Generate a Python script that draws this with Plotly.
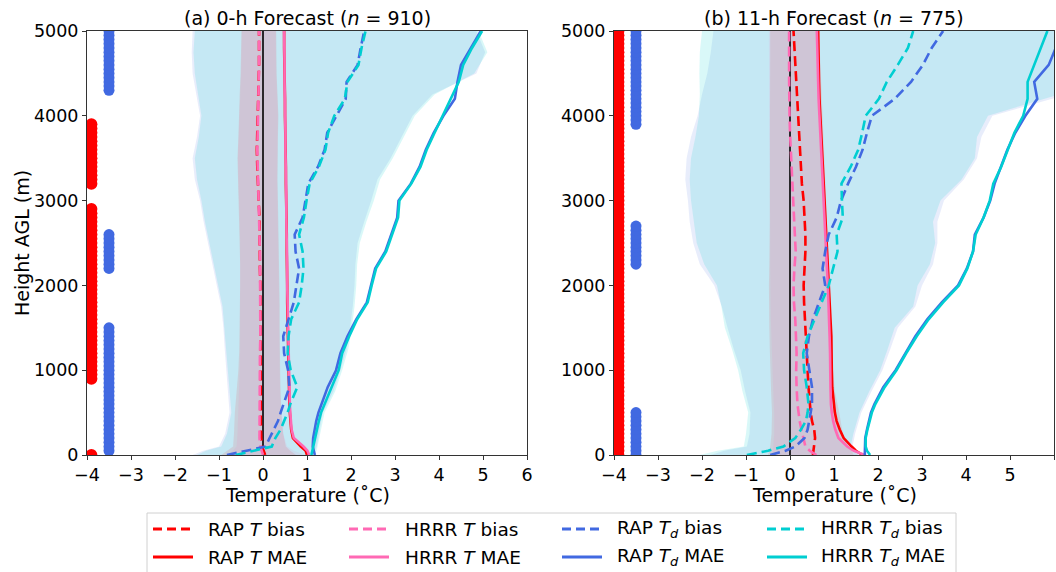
import plotly.graph_objects as go

# ---------------- data ----------------
H = [0, 50, 100, 200, 300, 400, 500, 600, 800, 1000, 1200, 1400, 1600, 1800, 2000,
     2200, 2400, 2600, 2800, 3000, 3200, 3400, 3600, 3800, 4000, 4200, 4400, 4600, 4800, 5000]
HB = [0, 50, 100, 250, 500, 750, 1000, 1250, 1500, 1750, 2000, 2250, 2500, 2750, 3000,
      3250, 3500, 3750, 4000, 4250, 4500, 4750, 5000]
x_ticks = [-4, -3, -2, -1, 0, 1, 2, 3, 4, 5, 6]
y_ticks = [0, 1000, 2000, 3000, 4000, 5000]

# (a) 0-h forecast
a_rap_t_bias = [0.05, 0.02, -0.02, -0.04, -0.05, -0.05, -0.05, -0.05, -0.05, -0.05, -0.05, -0.05, -0.05, -0.05, -0.06,
                -0.07, -0.07, -0.07, -0.08, -0.10, -0.12, -0.13, -0.14, -0.13, -0.12, -0.10, -0.09, -0.09, -0.09, -0.09]
a_hrrr_t_bias = [0.00, -0.03, -0.06, -0.08, -0.08, -0.08, -0.08, -0.08, -0.08, -0.07, -0.07, -0.06, -0.06, -0.06, -0.06,
                 -0.07, -0.07, -0.08, -0.09, -0.11, -0.12, -0.13, -0.13, -0.12, -0.11, -0.10, -0.10, -0.09, -0.09, -0.09]
a_rap_t_mae = [1.00, 0.97, 0.86, 0.68, 0.64, 0.62, 0.61, 0.60, 0.59, 0.58, 0.57, 0.57, 0.56, 0.55, 0.55,
               0.54, 0.54, 0.54, 0.53, 0.53, 0.52, 0.52, 0.51, 0.51, 0.50, 0.50, 0.49, 0.49, 0.48, 0.48]
a_hrrr_t_mae = [1.05, 1.01, 0.92, 0.70, 0.65, 0.63, 0.62, 0.61, 0.60, 0.59, 0.58, 0.57, 0.56, 0.56, 0.55,
                0.55, 0.54, 0.54, 0.53, 0.53, 0.52, 0.52, 0.51, 0.51, 0.50, 0.50, 0.49, 0.49, 0.48, 0.48]
a_rap_td_bias = [-0.82, -0.37, 0.06, 0.15, 0.25, 0.34, 0.40, 0.47, 0.60, 0.57, 0.48, 0.46, 0.58, 0.70, 0.76,
                 0.82, 0.74, 0.72, 0.90, 0.97, 1.03, 1.25, 1.40, 1.46, 1.67, 1.88, 1.90, 2.15, 2.22, 2.30]
a_hrrr_td_bias = [-0.62, -0.20, 0.20, 0.28, 0.40, 0.48, 0.56, 0.62, 0.78, 0.63, 0.56, 0.58, 0.64, 0.82, 0.88,
                  0.92, 0.90, 0.82, 0.93, 0.99, 1.06, 1.27, 1.42, 1.48, 1.62, 1.86, 1.92, 2.17, 2.24, 2.33]
a_rap_td_mae = [1.18, 1.15, 1.13, 1.14, 1.17, 1.21, 1.26, 1.33, 1.47, 1.66, 1.76, 1.92, 2.12, 2.36, 2.45,
                2.55, 2.78, 2.92, 3.05, 3.08, 3.36, 3.56, 3.70, 3.88, 4.10, 4.36, 4.42, 4.50, 4.72, 4.95]
a_hrrr_td_mae = [1.10, 1.12, 1.14, 1.18, 1.22, 1.27, 1.32, 1.40, 1.57, 1.72, 1.80, 1.96, 2.14, 2.38, 2.47,
                 2.57, 2.80, 2.94, 3.07, 3.10, 3.37, 3.58, 3.72, 3.90, 4.08, 4.27, 4.45, 4.55, 4.75, 4.98]
# spread bands (a)
a_rap_td_lo = [-1.60, -1.36, -1.00, -0.86, -0.76, -0.80, -0.84, -0.87, -0.90, -0.95, -1.05, -1.15, -1.25, -1.35, -1.43,
               -1.55, -1.60, -1.50, -1.43, -1.52, -1.60, -1.62, -1.60]
a_rap_td_hi = [1.10, 1.18, 1.22, 1.27, 1.36, 1.60, 1.76, 1.90, 1.98, 2.04, 2.08, 2.10, 2.15, 2.30, 2.46,
               2.60, 2.90, 3.15, 3.40, 3.85, 4.85, 5.05, 4.85]
a_hrrr_td_lo = [-1.50, -1.30, -0.95, -0.82, -0.72, -0.76, -0.80, -0.84, -0.87, -0.92, -1.02, -1.12, -1.22, -1.32, -1.40,
                -1.50, -1.55, -1.46, -1.40, -1.48, -1.55, -1.58, -1.55]
a_hrrr_td_hi = [1.15, 1.22, 1.25, 1.30, 1.40, 1.64, 1.80, 1.94, 2.02, 2.08, 2.12, 2.14, 2.20, 2.35, 2.52,
                2.66, 2.95, 3.20, 3.45, 3.90, 4.80, 5.10, 4.90]
a_rap_t_lo = [-0.95, -0.80, -0.68, -0.66, -0.64, -0.60, -0.56, -0.54, -0.53, -0.52, -0.52, -0.52, -0.53, -0.54, -0.56,
              -0.57, -0.58, -0.56, -0.55, -0.53, -0.51, -0.50, -0.49]
a_rap_t_hi = [0.75, 0.62, 0.52, 0.46, 0.42, 0.40, 0.39, 0.38, 0.38, 0.38, 0.38, 0.37, 0.36, 0.35, 0.34,
              0.33, 0.33, 0.34, 0.35, 0.33, 0.31, 0.30, 0.30]
a_hrrr_t_lo = [-0.78, -0.68, -0.60, -0.58, -0.56, -0.54, -0.53, -0.52, -0.52, -0.51, -0.51, -0.51, -0.52, -0.53, -0.55,
               -0.56, -0.57, -0.55, -0.54, -0.52, -0.50, -0.49, -0.48]
a_hrrr_t_hi = [0.95, 0.70, 0.55, 0.46, 0.41, 0.39, 0.38, 0.37, 0.37, 0.37, 0.37, 0.36, 0.35, 0.34, 0.33,
               0.32, 0.32, 0.33, 0.34, 0.32, 0.30, 0.29, 0.29]
# significance levels (a)
a_sig_t_levels = [(0, 0), (900, 2900), (3200, 3900)]
a_sig_td_levels = [(50, 1500), (2200, 2600), (4300, 5000)]

# (b) 11-h forecast
b_rap_t_bias = [0.52, 0.53, 0.55, 0.57, 0.55, 0.50, 0.47, 0.45, 0.42, 0.40, 0.38, 0.35, 0.33, 0.32, 0.31,
                0.33, 0.35, 0.35, 0.33, 0.31, 0.27, 0.25, 0.23, 0.21, 0.19, 0.17, 0.14, 0.12, 0.10, 0.08]
b_hrrr_t_bias = [0.60, 0.45, 0.35, 0.30, 0.26, 0.22, 0.19, 0.17, 0.15, 0.14, 0.15, 0.14, 0.12, 0.09, 0.08,
                 0.10, 0.13, 0.11, 0.09, 0.07, 0.05, 0.03, 0.01, 0.00, -0.01, -0.02, -0.02, -0.02, -0.02, -0.02]
b_rap_t_mae = [1.65, 1.50, 1.40, 1.22, 1.13, 1.06, 1.02, 1.00, 0.96, 0.95, 0.95, 0.94, 0.92, 0.90, 0.89,
               0.87, 0.84, 0.82, 0.81, 0.79, 0.76, 0.74, 0.72, 0.70, 0.68, 0.67, 0.66, 0.65, 0.64, 0.64]
b_hrrr_t_mae = [1.70, 1.45, 1.30, 1.10, 1.03, 0.98, 0.95, 0.93, 0.92, 0.92, 0.91, 0.90, 0.89, 0.87, 0.86,
                0.84, 0.82, 0.80, 0.79, 0.77, 0.74, 0.72, 0.70, 0.68, 0.66, 0.65, 0.64, 0.63, 0.62, 0.61]
b_rap_td_bias = [-0.45, -0.10, 0.12, 0.33, 0.40, 0.44, 0.47, 0.50, 0.50, 0.44, 0.38, 0.43, 0.52, 0.66, 0.80,
                 0.74, 0.80, 0.88, 1.06, 1.16, 1.32, 1.50, 1.65, 1.75, 1.86, 2.38, 2.75, 3.02, 3.22, 3.48]
b_hrrr_td_bias = [-0.98, -0.50, -0.15, 0.12, 0.25, 0.36, 0.40, 0.42, 0.38, 0.32, 0.30, 0.40, 0.56, 0.72, 0.88,
                  0.98, 1.08, 1.06, 1.20, 1.18, 1.17, 1.38, 1.55, 1.64, 1.72, 2.02, 2.20, 2.45, 2.68, 2.80]
b_rap_td_mae = [1.70, 1.70, 1.70, 1.71, 1.75, 1.80, 1.84, 1.92, 2.12, 2.40, 2.62, 2.85, 3.12, 3.45, 3.82,
                4.02, 4.16, 4.20, 4.40, 4.55, 4.65, 4.80, 4.94, 5.12, 5.35, 5.62, 5.55, 5.88, 6.05, 6.20]
b_hrrr_td_mae = [1.82, 1.75, 1.72, 1.72, 1.76, 1.81, 1.86, 1.94, 2.15, 2.42, 2.64, 2.88, 3.15, 3.48, 3.84,
                 4.03, 4.16, 4.22, 4.40, 4.54, 4.62, 4.80, 4.95, 5.10, 5.30, 5.40, 5.40, 5.55, 5.70, 5.85]
# spread bands (b)
b_rap_td_lo = [-1.80, -1.50, -0.98, -0.92, -0.90, -1.02, -1.12, -1.28, -1.42, -1.55, -1.72, -2.05, -2.20, -2.28, -2.32,
               -2.38, -2.35, -2.25, -2.10, -2.00, -1.88, -1.80, -1.74]
b_rap_td_hi = [1.60, 1.50, 1.42, 1.48, 1.62, 1.85, 2.10, 2.28, 2.45, 2.85, 3.00, 3.25, 3.35, 3.35, 3.50,
               3.95, 4.25, 4.35, 4.60, 6.30, 6.50, 6.50, 6.50]
b_hrrr_td_lo = [-2.05, -1.65, -1.05, -1.00, -0.95, -1.08, -1.18, -1.32, -1.48, -1.56, -1.66, -1.95, -2.12, -2.18, -2.25,
                -2.28, -2.25, -2.15, -2.07, -2.05, -2.06, -2.05, -2.00]
b_hrrr_td_hi = [1.55, 1.45, 1.38, 1.44, 1.58, 1.80, 2.05, 2.22, 2.38, 2.80, 2.90, 3.18, 3.30, 3.25, 3.42,
                3.90, 4.20, 4.25, 4.50, 6.10, 6.50, 6.50, 6.50]
b_rap_t_lo = [-0.50, -0.48, -0.45, -0.42, -0.41, -0.43, -0.45, -0.46, -0.47, -0.48, -0.48, -0.47, -0.46, -0.46, -0.46,
              -0.46, -0.45, -0.45, -0.45, -0.45, -0.45, -0.45, -0.45]
b_rap_t_hi = [1.45, 1.40, 1.32, 1.20, 1.12, 1.02, 0.98, 0.96, 0.94, 0.92, 0.90, 0.88, 0.86, 0.84, 0.82,
              0.80, 0.78, 0.76, 0.74, 0.72, 0.70, 0.68, 0.68]
b_hrrr_t_lo = [-0.42, -0.40, -0.38, -0.36, -0.36, -0.38, -0.40, -0.42, -0.43, -0.44, -0.45, -0.45, -0.45, -0.45, -0.46,
               -0.46, -0.46, -0.47, -0.47, -0.48, -0.48, -0.48, -0.48]
b_hrrr_t_hi = [1.55, 1.40, 1.28, 1.12, 1.02, 0.95, 0.92, 0.90, 0.88, 0.86, 0.84, 0.82, 0.80, 0.78, 0.76,
               0.74, 0.72, 0.70, 0.68, 0.66, 0.64, 0.62, 0.62]
b_sig_t_levels = [(0, 5000)]
b_sig_td_levels = [(0, 500), (2250, 2700), (3900, 5000)]

sig_step = 50
sig_t_x = -3.9
sig_td_x = -3.5

titles = ["(a) 0-h Forecast (<i>n</i> = 910)", "(b) 11-h Forecast (<i>n</i> = 775)"]
x_title = "Temperature (˚C)"
y_title = "Height AGL (m)"

# ---------------- styling ----------------
C_RAP_T = "rgb(255,0,0)"
C_HRRR_T = "rgb(255,105,180)"
C_RAP_TD = "rgb(65,105,225)"
C_HRRR_TD = "rgb(0,206,209)"
F_RAP_TD = "rgba(65,105,225,0.12)"
F_HRRR_TD = "rgba(0,206,209,0.15)"
F_RAP_T = "rgba(255,0,0,0.10)"
F_HRRR_T = "rgba(255,105,180,0.10)"
FONT = "DejaVu Sans"
DASH = "10px,5px"
LW = 2.6

W, HGT = 1056, 572
x_dom = [[87 / W, 527 / W], [614 / W, 1054 / W]]
y_dom = [1 - 455 / HGT, 1 - 31 / HGT]

fig = go.Figure()


def expand(levels):
    out = []
    for lo, hi in levels:
        h = lo
        while h <= hi:
            out.append(h)
            h += sig_step
    return out


def band(xa, ya, lo, hi, color):
    fig.add_trace(go.Scatter(x=list(lo) + list(hi)[::-1], y=list(HB) + list(HB)[::-1],
                             fill="toself", fillcolor=color, line=dict(width=0),
                             mode="lines", hoverinfo="skip", showlegend=False,
                             xaxis=xa, yaxis=ya))


panels = [
    dict(xa="x", ya="y",
         bands=[(a_rap_td_lo, a_rap_td_hi, F_RAP_TD), (a_hrrr_td_lo, a_hrrr_td_hi, F_HRRR_TD),
                (a_rap_t_lo, a_rap_t_hi, F_RAP_T), (a_hrrr_t_lo, a_hrrr_t_hi, F_HRRR_T)],
         lines=[a_rap_t_bias, a_rap_t_mae, a_hrrr_t_bias, a_hrrr_t_mae,
                a_rap_td_bias, a_rap_td_mae, a_hrrr_td_bias, a_hrrr_td_mae],
         sig_t=a_sig_t_levels, sig_td=a_sig_td_levels),
    dict(xa="x2", ya="y2",
         bands=[(b_rap_td_lo, b_rap_td_hi, F_RAP_TD), (b_hrrr_td_lo, b_hrrr_td_hi, F_HRRR_TD),
                (b_rap_t_lo, b_rap_t_hi, F_RAP_T), (b_hrrr_t_lo, b_hrrr_t_hi, F_HRRR_T)],
         lines=[b_rap_t_bias, b_rap_t_mae, b_hrrr_t_bias, b_hrrr_t_mae,
                b_rap_td_bias, b_rap_td_mae, b_hrrr_td_bias, b_hrrr_td_mae],
         sig_t=b_sig_t_levels, sig_td=b_sig_td_levels),
]

# name, colour, dash, legend row, legend column
line_specs = [
    ("RAP <i>T</i> bias", C_RAP_T, DASH, 0, 0),
    ("RAP <i>T</i> MAE", C_RAP_T, "solid", 1, 0),
    ("HRRR <i>T</i> bias", C_HRRR_T, DASH, 0, 1),
    ("HRRR <i>T</i> MAE", C_HRRR_T, "solid", 1, 1),
    ("RAP <i>T<sub>d</sub></i> bias", C_RAP_TD, DASH, 0, 2),
    ("RAP <i>T<sub>d</sub></i> MAE", C_RAP_TD, "solid", 1, 2),
    ("HRRR <i>T<sub>d</sub></i> bias", C_HRRR_TD, DASH, 0, 3),
    ("HRRR <i>T<sub>d</sub></i> MAE", C_HRRR_TD, "solid", 1, 3),
]

for pi, p in enumerate(panels):
    for lo, hi, col in p["bands"]:
        band(p["xa"], p["ya"], lo, hi, col)
    # zero line
    fig.add_trace(go.Scatter(x=[0, 0], y=[y_ticks[0], y_ticks[-1]], mode="lines",
                             line=dict(color="black", width=1.6), showlegend=False,
                             hoverinfo="skip", xaxis=p["xa"], yaxis=p["ya"]))
    for (name, col, dash, _r, _c), vals in zip(line_specs, p["lines"]):
        fig.add_trace(go.Scatter(x=vals, y=H, mode="lines", name=name,
                                 line=dict(color=col, width=LW, dash=dash),
                                 showlegend=False, xaxis=p["xa"], yaxis=p["ya"]))
    st = expand(p["sig_t"])
    fig.add_trace(go.Scatter(x=[sig_t_x] * len(st), y=st, mode="markers",
                             marker=dict(color=C_RAP_T, size=12, line=dict(width=0)),
                             showlegend=False, xaxis=p["xa"], yaxis=p["ya"]))
    sd = expand(p["sig_td"])
    fig.add_trace(go.Scatter(x=[sig_td_x] * len(sd), y=sd, mode="markers",
                             marker=dict(color=C_RAP_TD, size=11, line=dict(width=0)),
                             showlegend=False, xaxis=p["xa"], yaxis=p["ya"]))

axis_common = dict(showgrid=False, zeroline=False, showline=True, mirror=True,
                   linecolor="#333333", linewidth=1, ticks="outside", ticklen=4,
                   tickcolor="#333333", automargin=False,
                   tickfont=dict(family=FONT, size=17.5, color="black"))

for i in range(2):
    sfx = "" if i == 0 else "2"
    fig.update_layout(**{
        "xaxis" + sfx: dict(axis_common, domain=x_dom[i], range=[x_ticks[0], x_ticks[-1]],
                            tickvals=x_ticks, anchor="y" + sfx),
        "yaxis" + sfx: dict(axis_common, domain=y_dom, range=[y_ticks[0], y_ticks[-1]],
                            tickvals=y_ticks, anchor="x" + sfx),
    })

ann = []
for i in range(2):
    cx = (x_dom[i][0] + x_dom[i][1]) / 2
    ann.append(dict(text=titles[i], x=cx, y=1 - 18 / HGT, xref="paper", yref="paper",
                    showarrow=False, xanchor="center", yanchor="middle",
                    font=dict(family=FONT, size=19, color="black")))
    ann.append(dict(text=x_title, x=cx, y=1 - 495 / HGT, xref="paper", yref="paper",
                    showarrow=False, xanchor="center", yanchor="middle",
                    font=dict(family=FONT, size=19, color="black")))
ann.append(dict(text=y_title, x=22 / W, y=1 - 243 / HGT, xref="paper", yref="paper",
                showarrow=False, xanchor="center", yanchor="middle", textangle=-90,
                font=dict(family=FONT, size=19, color="black")))

# ---- legend (drawn as shapes + text) ----
shapes = [dict(type="rect", xref="paper", yref="paper",
               x0=147 / W, x1=956 / W, y0=1 - 580 / HGT, y1=1 - 513 / HGT,
               line=dict(color="#d0d0d0", width=1), fillcolor="white", layer="above")]
leg_line_x = [153, 349, 562, 767]
leg_text_x = [207, 404, 616, 820]
leg_row_y = [529, 557]
for name, col, dash, r, c in line_specs:
    yy = 1 - leg_row_y[r] / HGT
    shapes.append(dict(type="line", xref="paper", yref="paper",
                       x0=leg_line_x[c] / W, x1=(leg_line_x[c] + 40) / W, y0=yy, y1=yy,
                       line=dict(color=col, width=3, dash=("9px,5px" if dash != "solid" else "solid")),
                       layer="above"))
    ann.append(dict(text=name, x=leg_text_x[c] / W, y=yy, xref="paper", yref="paper",
                    showarrow=False, xanchor="left", yanchor="middle", borderpad=0,
                    font=dict(family=FONT, size=18.5, color="black")))

fig.update_layout(
    width=W, height=HGT, margin=dict(l=0, r=0, t=0, b=0, autoexpand=False),
    paper_bgcolor="white", plot_bgcolor="white",
    annotations=ann, shapes=shapes, showlegend=False,
)

fig.write_html("out.html")
